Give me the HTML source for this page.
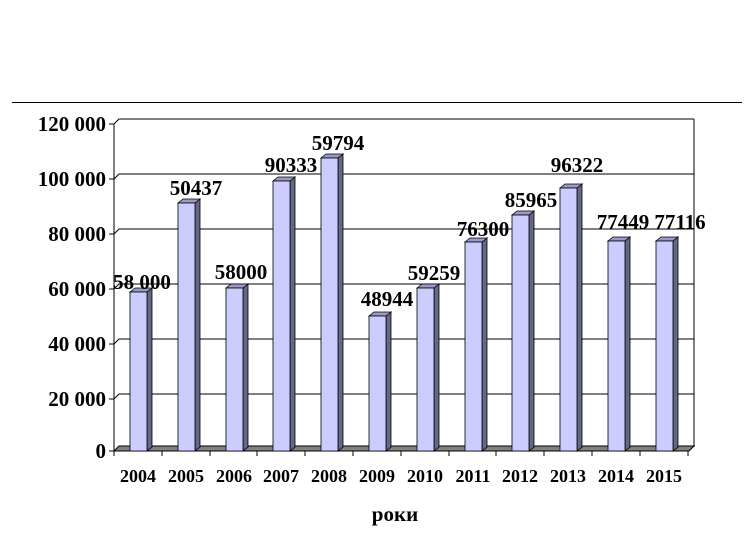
<!DOCTYPE html>
<html><head><meta charset="utf-8"><style>
body{margin:0;background:#fff}
text{font-family:"Liberation Serif",serif;font-weight:bold;fill:#000}
</style></head><body>
<svg width="753" height="531" xmlns="http://www.w3.org/2000/svg">
<line x1="12" y1="102.5" x2="742" y2="102.5" stroke="#000" stroke-width="1"/>
<polyline points="114,124 119,119 694,119" fill="none" stroke="#000"/>
<line x1="694" y1="119" x2="694" y2="447" stroke="#000"/>
<g stroke="#000" stroke-width="1" fill="none">
<polyline points="114,179 119,174 694,174"/>
<polyline points="114,234 119,229 694,229"/>
<polyline points="114,289 119,284 694,284"/>
<polyline points="114,344 119,339 694,339"/>
<polyline points="114,399 119,394 694,394"/>
</g>
<polygon points="114,451 119,446 694,446 689,451" fill="#808080" stroke="#000"/>
<line x1="114" y1="124" x2="114" y2="451" stroke="#000"/>
<line x1="114" y1="451" x2="689" y2="451" stroke="#000"/>
<g stroke="#000">
<line x1="109" y1="124" x2="114" y2="124"/><line x1="109" y1="179" x2="114" y2="179"/>
<line x1="109" y1="234" x2="114" y2="234"/><line x1="109" y1="289" x2="114" y2="289"/>
<line x1="109" y1="344" x2="114" y2="344"/><line x1="109" y1="399" x2="114" y2="399"/>
<line x1="109" y1="451" x2="114" y2="451"/>
<line x1="114" y1="451" x2="114" y2="456"/><line x1="162" y1="451" x2="162" y2="456"/>
<line x1="210" y1="451" x2="210" y2="456"/><line x1="257" y1="451" x2="257" y2="456"/>
<line x1="305" y1="451" x2="305" y2="456"/><line x1="353" y1="451" x2="353" y2="456"/>
<line x1="401" y1="451" x2="401" y2="456"/><line x1="449" y1="451" x2="449" y2="456"/>
<line x1="496" y1="451" x2="496" y2="456"/><line x1="544" y1="451" x2="544" y2="456"/>
<line x1="592" y1="451" x2="592" y2="456"/><line x1="640" y1="451" x2="640" y2="456"/>
<line x1="688" y1="451" x2="688" y2="456"/>
</g>
<g font-size="21" text-anchor="end">
<text x="106" y="131">120 000</text><text x="106" y="186">100 000</text>
<text x="106" y="241">80 000</text><text x="106" y="296">60 000</text>
<text x="106" y="351">40 000</text><text x="106" y="406">20 000</text>
<text x="106" y="458">0</text>
</g>
<g stroke="#000" stroke-width="0.8">
<g transform="translate(130,0)"><polygon points="17,292 22,288 22,447 17,451" fill="#666688"/><polygon points="0,292 5,288 22,288 17,292" fill="#9999cc"/><rect x="0" y="292" width="17" height="159" fill="#ccccff"/></g>
<g transform="translate(178,0)"><polygon points="17,203 22,199 22,447 17,451" fill="#666688"/><polygon points="0,203 5,199 22,199 17,203" fill="#9999cc"/><rect x="0" y="203" width="17" height="248" fill="#ccccff"/></g>
<g transform="translate(226,0)"><polygon points="17,288 22,284 22,447 17,451" fill="#666688"/><polygon points="0,288 5,284 22,284 17,288" fill="#9999cc"/><rect x="0" y="288" width="17" height="163" fill="#ccccff"/></g>
<g transform="translate(273,0)"><polygon points="17,181 22,177 22,447 17,451" fill="#666688"/><polygon points="0,181 5,177 22,177 17,181" fill="#9999cc"/><rect x="0" y="181" width="17" height="270" fill="#ccccff"/></g>
<g transform="translate(321,0)"><polygon points="17,158 22,154 22,447 17,451" fill="#666688"/><polygon points="0,158 5,154 22,154 17,158" fill="#9999cc"/><rect x="0" y="158" width="17" height="293" fill="#ccccff"/></g>
<g transform="translate(369,0)"><polygon points="17,316 22,312 22,447 17,451" fill="#666688"/><polygon points="0,316 5,312 22,312 17,316" fill="#9999cc"/><rect x="0" y="316" width="17" height="135" fill="#ccccff"/></g>
<g transform="translate(417,0)"><polygon points="17,288 22,284 22,447 17,451" fill="#666688"/><polygon points="0,288 5,284 22,284 17,288" fill="#9999cc"/><rect x="0" y="288" width="17" height="163" fill="#ccccff"/></g>
<g transform="translate(465,0)"><polygon points="17,242 22,238 22,447 17,451" fill="#666688"/><polygon points="0,242 5,238 22,238 17,242" fill="#9999cc"/><rect x="0" y="242" width="17" height="209" fill="#ccccff"/></g>
<g transform="translate(512,0)"><polygon points="17,215 22,211 22,447 17,451" fill="#666688"/><polygon points="0,215 5,211 22,211 17,215" fill="#9999cc"/><rect x="0" y="215" width="17" height="236" fill="#ccccff"/></g>
<g transform="translate(560,0)"><polygon points="17,188 22,184 22,447 17,451" fill="#666688"/><polygon points="0,188 5,184 22,184 17,188" fill="#9999cc"/><rect x="0" y="188" width="17" height="263" fill="#ccccff"/></g>
<g transform="translate(608,0)"><polygon points="17,241 22,237 22,447 17,451" fill="#666688"/><polygon points="0,241 5,237 22,237 17,241" fill="#9999cc"/><rect x="0" y="241" width="17" height="210" fill="#ccccff"/></g>
<g transform="translate(656,0)"><polygon points="17,241 22,237 22,447 17,451" fill="#666688"/><polygon points="0,241 5,237 22,237 17,241" fill="#9999cc"/><rect x="0" y="241" width="17" height="210" fill="#ccccff"/></g>
</g>
<g font-size="18" text-anchor="middle">
<text x="138" y="482">2004</text><text x="186" y="482">2005</text><text x="234" y="482">2006</text>
<text x="281" y="482">2007</text><text x="329" y="482">2008</text><text x="377" y="482">2009</text>
<text x="425" y="482">2010</text><text x="473" y="482">2011</text><text x="520" y="482">2012</text>
<text x="568" y="482">2013</text><text x="616" y="482">2014</text><text x="664" y="482">2015</text>
</g>
<g font-size="21" text-anchor="middle">
<text x="142" y="289">58 000</text><text x="196" y="195">50437</text><text x="241" y="279">58000</text>
<text x="291" y="172">90333</text><text x="338" y="150">59794</text><text x="387" y="306">48944</text>
<text x="434" y="280">59259</text><text x="483" y="236">76300</text><text x="531" y="207">85965</text>
<text x="577" y="172">96322</text><text x="623" y="229">77449</text><text x="680" y="229">77116</text>
</g>
<text x="395" y="521" font-size="21" text-anchor="middle">роки</text>
</svg>
</body></html>
